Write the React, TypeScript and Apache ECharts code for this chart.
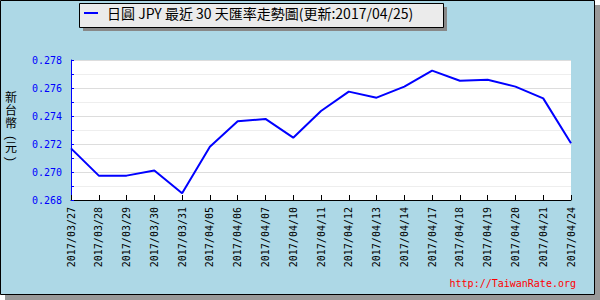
import React, { useEffect, useRef } from "react";
import * as echarts from "echarts";

const categories = [
  "2017/03/27", "2017/03/28", "2017/03/29", "2017/03/30", "2017/03/31",
  "2017/04/05", "2017/04/06", "2017/04/07", "2017/04/10", "2017/04/11",
  "2017/04/12", "2017/04/13", "2017/04/14", "2017/04/17", "2017/04/18",
  "2017/04/19", "2017/04/20", "2017/04/21", "2017/04/24",
];
const jpyValues = [
  0.27169, 0.26974, 0.26974, 0.2701, 0.26848,
  0.27181, 0.27362, 0.27379, 0.27245, 0.27436,
  0.27574, 0.27531, 0.2761, 0.27724, 0.27652,
  0.27659, 0.2761, 0.27526, 0.27205,
];
const seriesName = "日圓 JPY 最近 30 天匯率走勢圖(更新:2017/04/25)";
const yAxisTitleChars = ["新", "台", "幣", "(", "元", ")"];
const watermark = "http://TaiwanRate.org";

export default function App() {
  const ref = useRef<HTMLDivElement>(null);
  useEffect(() => {
    document.body.style.margin = "0";
    const chart = echarts.init(ref.current!, null, { renderer: "svg" });
    const titleYs = [98, 111, 124, 138, 148, 159];
    const titleRot = [0, 0, 0, -Math.PI / 2, 0, -Math.PI / 2];
    chart.setOption({
      animation: false,
      backgroundColor: "transparent",
      graphic: [
        { type: "rect", z: -10, shape: { x: 595, y: 5, width: 5, height: 295 }, style: { fill: "#999" }, silent: true },
        { type: "rect", z: -10, shape: { x: 5, y: 295, width: 595, height: 5 }, style: { fill: "#999" }, silent: true },
        { type: "rect", z: -9, shape: { x: 0.5, y: 0.5, width: 594, height: 294 }, style: { fill: "#add8e6", stroke: "#000", lineWidth: 1 }, silent: true },
        { type: "rect", z: -8, shape: { x: 83, y: 7, width: 364, height: 24 }, style: { fill: "#888" }, silent: true },
        { type: "rect", z: -7, shape: { x: 79.5, y: 3.5, width: 364, height: 24 }, style: { fill: "#ebebeb", stroke: "#000", lineWidth: 1 }, silent: true },
        ...yAxisTitleChars.map((c, i) => ({
          type: "text",
          x: 11,
          y: titleYs[i],
          rotation: titleRot[i],
          style: { text: c, font: "12px 'Liberation Sans', 'Noto Sans CJK TC'", lineHeight: 10, fill: "#000", align: "center", verticalAlign: "middle" },
        })),
        { type: "text", x: 576, y: 283, style: { text: watermark, font: "10px 'DejaVu Sans Mono'", fill: "#ff0000", align: "right", verticalAlign: "middle" } },
      ],
      legend: {
        top: 5,
        left: 84,
        itemWidth: 14,
        itemHeight: 2,
        icon: "rect",
        padding: 0,
        textStyle: { fontSize: 14, lineHeight: 16, color: "#000", fontFamily: "'Noto Sans CJK TC'", padding: [0, 0, 0, 4] },
        data: [seriesName],
      },
      grid: {
        left: 71,
        right: 29,
        top: 60,
        bottom: 100,
        show: true,
        backgroundColor: "#ffffff",
        borderWidth: 0,
      },
      xAxis: {
        type: "category",
        data: categories,
        boundaryGap: false,
        axisLine: { lineStyle: { color: "#000", width: 1 } },
        axisTick: { inside: true, length: 5, lineStyle: { color: "#000" }, alignWithLabel: true },
        axisLabel: { rotate: 90, color: "#000", fontSize: 10, margin: 7, interval: 0, fontFamily: "'DejaVu Sans Mono'" },
        splitLine: { show: false },
      },
      yAxis: {
        type: "value",
        min: 0.268,
        max: 0.278,
        interval: 0.002,
        axisLine: { show: true, lineStyle: { color: "#0000ff", width: 1 } },
        axisTick: { show: true, inside: true, length: 3, lineStyle: { color: "#0000ff" } },
        minorTick: { show: true, splitNumber: 2, length: 3, lineStyle: { color: "#0000ff" } },
        axisLabel: { color: "#0000ff", fontSize: 10, margin: 9, fontFamily: "'DejaVu Sans Mono'", formatter: (v: number) => v.toFixed(3) },
        splitLine: { show: true, lineStyle: { color: "#dddddd", width: 1 } },
        minorSplitLine: { show: true, lineStyle: { color: "#eeeeee", width: 1 } },
      },
      series: [
        {
          name: seriesName,
          type: "line",
          data: jpyValues,
          symbol: "none",
          lineStyle: { color: "#0000ff", width: 2 },
          itemStyle: { color: "#0000ff" },
        },
      ],
    });
    return () => chart.dispose();
  }, []);
  return <div ref={ref} style={{ width: 600, height: 300 }} />;
}
